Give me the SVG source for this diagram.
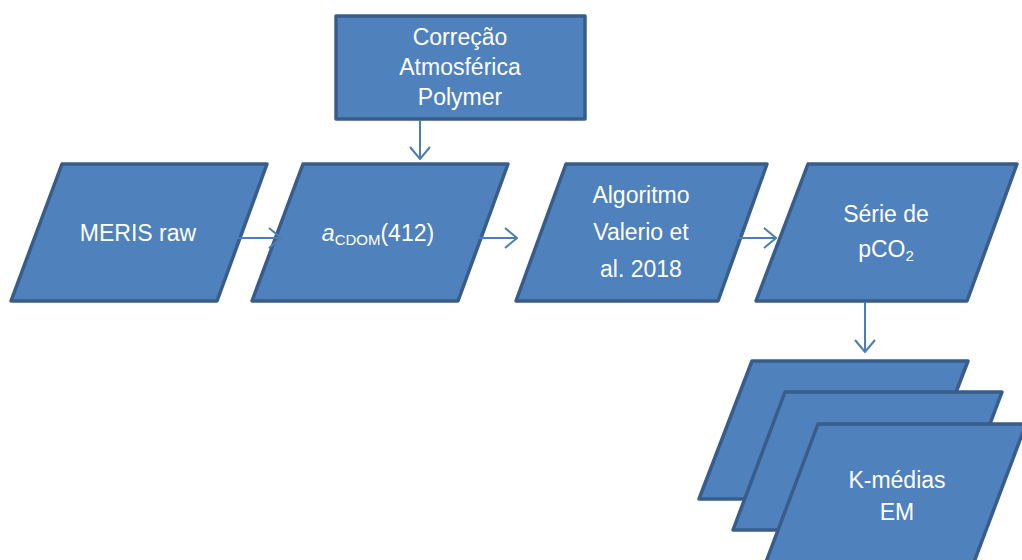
<svg xmlns="http://www.w3.org/2000/svg" width="1022" height="560" viewBox="0 0 1022 560">
<style>
.box{fill:#4F81BD;stroke:#385D8A;stroke-width:3.5;stroke-linejoin:round}
.lbl{font-family:"Liberation Sans",Arial,sans-serif;font-size:23px;fill:#FFFFFF;text-anchor:middle}
.sub{font-size:15px}
.conn{fill:none;stroke:#4A7EBB;stroke-width:2}
</style>
<defs>
<marker id="arr" viewBox="0 0 14 22" refX="13" refY="11" markerWidth="14" markerHeight="22" markerUnits="userSpaceOnUse" orient="auto">
<path d="M1,1 L13,11 L1,21" fill="none" stroke="#4A7EBB" stroke-width="2"/>
</marker>
</defs>
<rect width="1022" height="560" fill="#FFFFFF"/>
<g id="node-correcao">
<rect class="box" x="336" y="16" width="249" height="103"/>
<text class="lbl" x="460" y="45">Correção</text>
<text class="lbl" x="460" y="75">Atmosférica</text>
<text class="lbl" x="460" y="105">Polymer</text>
</g>
<g id="node-meris">
<polygon class="box" points="62,164 267,164 217,301 11,301"/>
<text class="lbl" x="138" y="241">MERIS raw</text>
</g>
<g id="node-acdom">
<polygon class="box" points="303,164 508,164 458,301 252,301"/>
<text class="lbl" x="378" y="241"><tspan font-style="italic">a</tspan><tspan class="sub" dy="4">CDOM</tspan><tspan dy="-4">(412)</tspan></text>
</g>
<g id="node-algoritmo">
<polygon class="box" points="566,164 767,164 718,301 516,301"/>
<text class="lbl" x="641" y="203">Algoritmo</text>
<text class="lbl" x="641" y="240">Valerio et</text>
<text class="lbl" x="641" y="277">al. 2018</text>
</g>
<g id="node-serie">
<polygon class="box" points="808,164 1017,164 967,301 756,301"/>
<text class="lbl" x="886" y="222">Série de</text>
<text class="lbl" x="886" y="257">pCO<tspan class="sub" dy="4">2</tspan></text>
</g>
<g id="node-kmedias">
<polygon class="box" points="752,361 968,361 915,499 699,499"/>
<polygon class="box" points="785,392 1002,392 950,530 733,530"/>
<polygon class="box" points="818,424 1026,424 974,562 766,562"/>
<text class="lbl" x="897" y="488">K-médias</text>
<text class="lbl" x="897" y="520">EM</text>
</g>
<g id="connectors">
<path class="conn" d="M420,120 L420,159" marker-end="url(#arr)"/>
<path class="conn" d="M238,238 L281,238" marker-end="url(#arr)"/>
<path class="conn" d="M477,238 L517,238" marker-end="url(#arr)"/>
<path class="conn" d="M735,238 L776,238" marker-end="url(#arr)"/>
<path class="conn" d="M865,302 L865,352" marker-end="url(#arr)"/>
</g>
</svg>
